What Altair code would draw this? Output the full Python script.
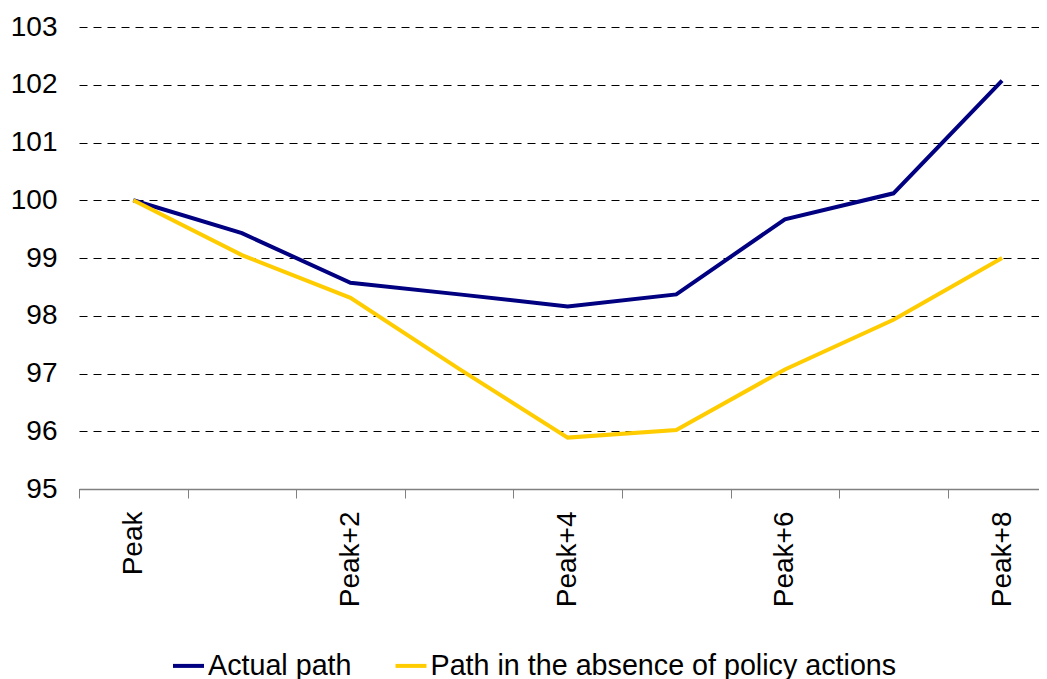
import altair as alt
import pandas as pd

categories = ["Peak", "Peak+1", "Peak+2", "Peak+3", "Peak+4", "Peak+5", "Peak+6", "Peak+7", "Peak+8"]
actual_path = [100.0, 99.43, 98.57, 98.37, 98.16, 98.37, 99.67, 100.12, 102.07]
no_policy_path = [100.0, 99.05, 98.31, 97.08, 95.89, 96.02, 97.07, 97.93, 99.0]
series_names = ["Actual path", "Path in the absence of policy actions"]
series_colors = ["#000080", "#FFCC00"]
y_ticks = [95, 96, 97, 98, 99, 100, 101, 102, 103]
labelled_steps = [0, 2, 4, 6, 8]

rows = []
for name, vals in zip(series_names, [actual_path, no_policy_path]):
    for i, v in enumerate(vals):
        rows.append({"step": i, "series": name, "value": v})
df = pd.DataFrame(rows)

FONT = "Liberation Sans"
x_scale = alt.Scale(domain=[-0.5, 8.34], nice=False, zero=False)
y_scale = alt.Scale(domain=[95, 103], nice=False, zero=False)

y_enc = alt.Y(
    "value:Q",
    scale=y_scale,
    axis=alt.Axis(
        values=y_ticks, domain=False, ticks=False, labelPadding=22,
        labelFontSize=28, labelFont=FONT, labelColor="black",
        grid=True, gridColor="black", gridDash=[8, 6], gridWidth=1,
        title=None,
    ),
)

label_expr = "[" + ",".join("'" + c + "'" for c in categories) + "][datum.value]"

lines = alt.Chart(df).mark_line(strokeWidth=4).encode(
    x=alt.X(
        "step:Q", scale=x_scale,
        axis=alt.Axis(
            orient="bottom", values=[i - 0.5 for i in range(len(categories))],
            labels=False, ticks=True, tickSize=9, tickColor="#808080", tickWidth=1,
            domain=True, domainColor="#808080", domainWidth=1.5, grid=False, title=None,
        ),
    ),
    y=y_enc,
    color=alt.Color(
        "series:N",
        scale=alt.Scale(domain=series_names, range=series_colors),
        legend=alt.Legend(
            orient="none", legendX=92, legendY=621, direction="horizontal", title=None,
            symbolType="stroke", symbolSize=961, symbolStrokeWidth=4,
            labelFontSize=28.7, labelFont=FONT, labelColor="black", labelOffset=2,
            columnPadding=35.5, labelLimit=700,
        ),
    ),
)

label_layer = alt.Chart(df).mark_line(opacity=0).encode(
    x=alt.X(
        "step:Q", scale=x_scale,
        axis=alt.Axis(
            orient="bottom", values=labelled_steps, labelExpr=label_expr, labelAngle=270,
            labelFontSize=28, labelFont=FONT, labelColor="black", ticks=False, tickSize=0,
            domain=False, grid=False, labelPadding=22, labelFlush=False, labelOverlap=False,
            title=None,
        ),
    ),
    y=y_enc,
    detail="series:N",
)

chart = (
    alt.layer(lines, label_layer)
    .resolve_axis(x="independent")
    .properties(
        width=960, height=462,
        autosize=alt.AutoSizeParams(type="none"),
        padding={"left": 71, "top": 19, "right": 0, "bottom": 190},
    )
    .configure_view(stroke=None)
)

chart.save("out.html", embed_options={"renderer": "svg", "actions": False})
